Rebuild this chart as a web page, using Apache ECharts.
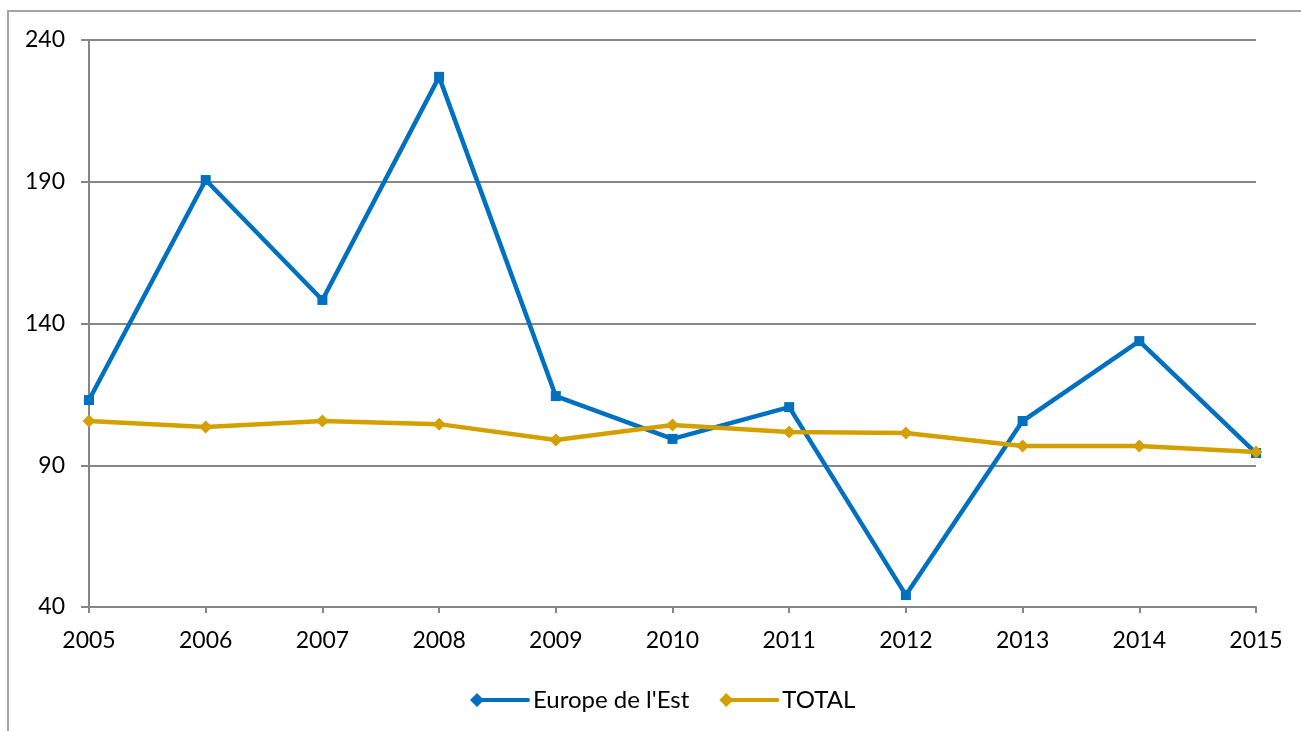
<!DOCTYPE html>
<html><head><meta charset="utf-8">
<script src="https://cdn.jsdelivr.net/npm/echarts@6/dist/echarts.min.js"></script>
<style>
html,body{margin:0;padding:0;background:#fff;}
#frame{position:absolute;left:7px;top:10px;width:1310px;height:740px;border:2px solid #a6a6a6;box-sizing:border-box;}
#c{position:absolute;left:0;top:0;width:1301px;height:731px;}
</style></head>
<body><div id="frame"></div><div id="c"></div>
<script>
const years = ['2005','2006','2007','2008','2009','2010','2011','2012','2013','2014','2015'];
const europeEst = [113, 190.6, 148.3, 227, 114.4, 99.3, 110.5, 44.2, 105.6, 133.8, 94.3];
const total = [105.6, 103.5, 105.6, 104.5, 98.9, 104.2, 101.7, 101.4, 96.8, 96.8, 94.7];
const yTicks = [40, 90, 140, 190, 240];

const chart = echarts.init(document.getElementById('c'));
const font = 'Lato, "Open Sans", sans-serif';
const legendIcon = 'path://M0,7 L7,0 L14,7 L7,14 Z M7,5 L58,5 Q60,5 60,7 Q60,9 58,9 L7,9 Z';
chart.setOption({
  animation: false,
  grid: {left: 89, right: 45, top: 40, bottom: 124},
  xAxis: {
    type: 'category', data: years, boundaryGap: false,
    axisLine: {lineStyle: {color: '#868686', width: 2}},
    axisTick: {show: true, alignWithLabel: true, length: 6, lineStyle: {color: '#868686', width: 2}},
    axisLabel: {color: '#000', fontSize: 23, fontFamily: font, margin: 22}
  },
  yAxis: {
    type: 'value', min: yTicks[0], max: yTicks[yTicks.length-1], interval: 50,
    axisLine: {show: true, lineStyle: {color: '#868686', width: 2}},
    axisTick: {show: true, length: 8, lineStyle: {color: '#868686', width: 2}},
    splitLine: {lineStyle: {color: '#868686', width: 2}},
    axisLabel: {color: '#000', fontSize: 23, fontFamily: font, margin: 24}
  },
  legend: {
    top: 683, left: 465, itemWidth: 60, itemHeight: 14, itemGap: 30,
    textStyle: {color: '#000', fontSize: 24, fontFamily: font, padding: [0,0,0,-2]},
    data: [{name: "Europe de l'Est", icon: legendIcon}, {name: 'TOTAL', icon: legendIcon}]
  },
  series: [
    {name: "Europe de l'Est", type: 'line', data: europeEst, symbol: 'rect', symbolSize: 10,
     lineStyle: {color: '#0070C0', width: 4.5}, itemStyle: {color: '#0070C0'}},
    {name: 'TOTAL', type: 'line', data: total, symbol: 'diamond', symbolSize: 13,
     lineStyle: {color: '#D4A000', width: 4.5}, itemStyle: {color: '#D4A000'}}
  ]
});
</script></body></html>
